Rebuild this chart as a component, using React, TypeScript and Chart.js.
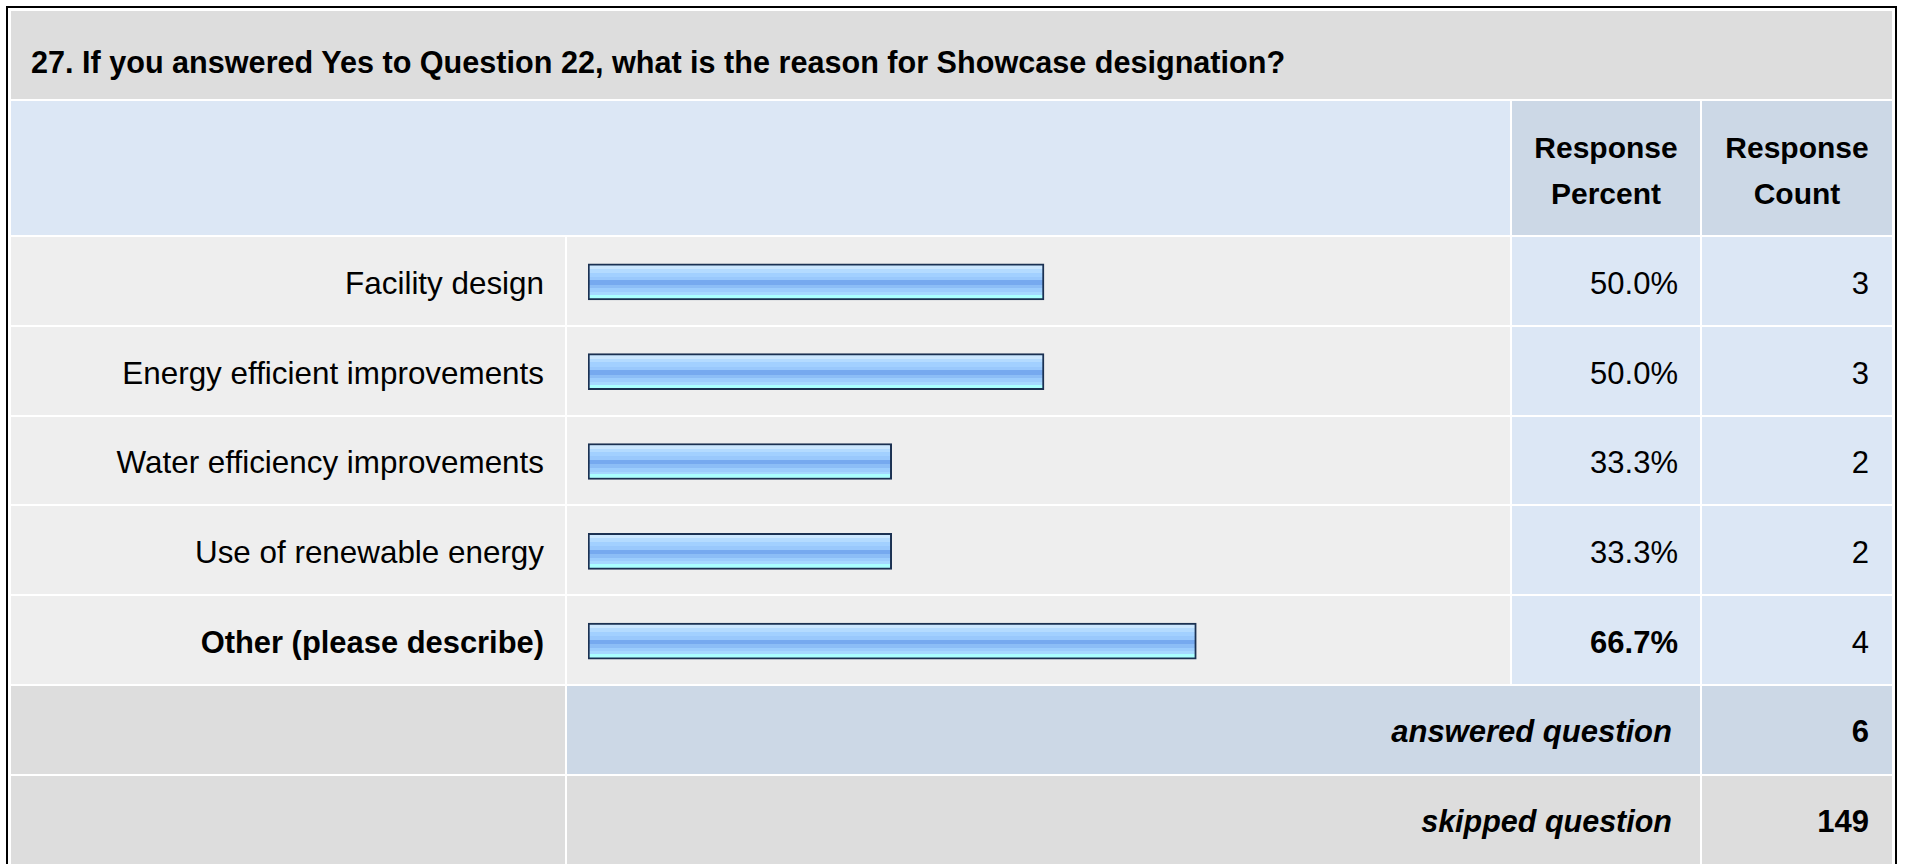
import React, { useEffect, useRef } from "react";
import { Chart, registerables } from "chart.js";

Chart.register(...registerables);

// ---- data ----
const questionTitle =
  "27. If you answered Yes to Question 22, what is the reason for Showcase designation?";
const categories = [
  "Facility design",
  "Energy efficient improvements",
  "Water efficiency improvements",
  "Use of renewable energy",
  "Other (please describe)",
];
const percents = [50.0, 50.0, 33.3, 33.3, 66.7];
const counts = [3, 3, 2, 2, 4];
const boldRows = [false, false, false, false, true];
const headerPercent = ["Response", "Percent"];
const headerCount = ["Response", "Count"];
const answeredLabel = "answered question";
const answeredCount = 6;
const skippedLabel = "skipped question";
const skippedCount = 149;

// ---- layout ----
const FONT = "'Liberation Sans', Arial, Helvetica, sans-serif";
const X = { l0: 11, l1: 565, b0: 567, b1: 1510, p0: 1512, p1: 1700, c0: 1702, c1: 1892 };
const ROW_PITCH = 89.8;
const ROW0 = 237;
const rowTop = (i: number) => Math.round(ROW0 + i * ROW_PITCH);
const rowBottom = (i: number) => rowTop(i + 1) - 2;

const C = {
  title: "#dddddd",
  headLight: "#dce7f5",
  headDark: "#ccd8e6",
  rowGray: "#eeeeee",
  rowBlue: "#dce7f5",
  sumGray: "#dddddd",
};

type BoxProps = {
  x0: number; x1: number; y0: number; y1: number; bg: string;
  justify?: string; pr?: number; pl?: number; pt?: number;
  children?: React.ReactNode; style?: React.CSSProperties;
};
function Box({ x0, x1, y0, y1, bg, justify = "flex-end", pr = 0, pl = 0, pt = 0, children, style }: BoxProps) {
  return (
    <div
      style={{
        position: "absolute",
        left: x0,
        top: y0,
        width: x1 - x0,
        height: y1 - y0,
        background: bg,
        display: "flex",
        alignItems: "center",
        justifyContent: justify,
        boxSizing: "border-box",
        paddingRight: pr,
        paddingLeft: pl,
        paddingTop: pt,
        fontFamily: FONT,
        fontSize: 31.4,
        color: "#000",
        whiteSpace: "nowrap",
        ...style,
      }}
    >
      {children}
    </div>
  );
}

const BAR_THICKNESS = 36;
const bands: [number, string][] = [
  [0.0, "#cbe7ff"],
  [0.14, "#b4dbff"],
  [0.24, "#a2d0ff"],
  [0.36, "#99c8fc"],
  [0.46, "#76a9ef"],
  [0.58, "#8cbdf6"],
  [0.68, "#9ccdfd"],
  [0.78, "#a6d9ff"],
  [0.86, "#aaffff"],
  [1.0, "#aaffff"],
];

function barFill(ctx: any) {
  const ch = ctx.chart;
  const ys = ch.scales && ch.scales.y;
  if (!ys || ctx.type !== "data") return "#8fc0f8";
  const cy = ys.getPixelForValue(ctx.dataIndex);
  if (!Number.isFinite(cy)) return "#8fc0f8";
  const top = cy - BAR_THICKNESS / 2;
  const g = ch.ctx.createLinearGradient(0, top, 0, top + BAR_THICKNESS);
  for (let i = 0; i < bands.length; i++) {
    const [s, col] = bands[i];
    g.addColorStop(s, col);
    if (i + 1 < bands.length) g.addColorStop(Math.max(s, bands[i + 1][0] - 0.001), col);
  }
  return g;
}

function BarChart() {
  const ref = useRef<HTMLCanvasElement | null>(null);
  useEffect(() => {
    if (!ref.current) return;
    const chart = new Chart(ref.current, {
      type: "bar",
      data: {
        labels: categories,
        datasets: [
          {
            data: percents,
            barThickness: BAR_THICKNESS,
            borderWidth: 2,
            borderColor: "#1b3152",
            borderSkipped: false,
            backgroundColor: barFill,
          },
        ],
      },
      options: {
        indexAxis: "y",
        responsive: false,
        maintainAspectRatio: false,
        devicePixelRatio: 1,
        animation: false,
        layout: { padding: { left: 21, right: 10, top: 0, bottom: 0 } },
        scales: {
          x: { display: false, min: 0, max: 100, grid: { display: false } },
          y: { display: false, offset: true, grid: { display: false } },
        },
        plugins: {
          legend: { display: false },
          tooltip: { enabled: false },
          title: { display: false },
        },
      } as any,
    });
    chart.update();
    return () => chart.destroy();
  }, []);
  const top = rowTop(0);
  const height = rowTop(categories.length) - top;
  return (
    <canvas
      ref={ref}
      width={X.b1 - X.b0}
      height={height}
      style={{ position: "absolute", left: X.b0, top, width: X.b1 - X.b0, height }}
    />
  );
}

export default function App() {
  const n = categories.length;
  const headStyle: React.CSSProperties = {
    position: "absolute", top: 125, textAlign: "center",
    fontFamily: FONT, fontWeight: "bold", fontSize: 30, lineHeight: "46px", color: "#000",
  };
  return (
    <div
      style={{
        position: "fixed",
        left: 0,
        top: 0,
        width: 1907,
        height: 864,
        background: "#fff",
        overflow: "hidden",
      }}
    >
      {/* outer border */}
      <div
        style={{
          position: "absolute",
          left: 6,
          top: 6,
          width: 1891,
          height: 900,
          border: "2px solid #000",
          boxSizing: "border-box",
        }}
      />
      {/* title */}
      <Box x0={X.l0} x1={X.c1} y0={11} y1={99} bg={C.title} justify="flex-start" pl={20} pt={15}
        style={{ fontWeight: "bold", fontSize: 30.6 }}>
        {questionTitle}
      </Box>
      {/* header */}
      <Box x0={X.l0} x1={X.b1} y0={101} y1={235} bg={C.headLight} />
      <Box x0={X.p0} x1={X.p1} y0={101} y1={235} bg={C.headDark} justify="center" />
      <Box x0={X.c0} x1={X.c1} y0={101} y1={235} bg={C.headDark} justify="center" />
      <div style={{ ...headStyle, left: X.p0, width: X.p1 - X.p0 }}>
        {headerPercent[0]}<br />{headerPercent[1]}
      </div>
      <div style={{ ...headStyle, left: X.c0, width: X.c1 - X.c0 }}>
        {headerCount[0]}<br />{headerCount[1]}
      </div>
      {/* data rows */}
      {categories.map((cat, i) => (
        <React.Fragment key={cat}>
          <Box x0={X.l0} x1={X.l1} y0={rowTop(i)} y1={rowBottom(i)} bg={C.rowGray} pr={21} pt={5}
            style={{ fontWeight: boldRows[i] ? "bold" : "normal", fontSize: boldRows[i] ? 30.9 : 31.4 }}>
            {cat}
          </Box>
          <Box x0={X.b0} x1={X.b1} y0={rowTop(i)} y1={rowBottom(i)} bg={C.rowGray} />
          <Box x0={X.p0} x1={X.p1} y0={rowTop(i)} y1={rowBottom(i)} bg={C.rowBlue} pr={22} pt={5}
            style={{ fontWeight: boldRows[i] ? "bold" : "normal", fontSize: 31 }}>
            {percents[i].toFixed(1) + "%"}
          </Box>
          <Box x0={X.c0} x1={X.c1} y0={rowTop(i)} y1={rowBottom(i)} bg={C.rowBlue} pr={23} pt={5}
            style={{ fontSize: 31 }}>
            {String(counts[i])}
          </Box>
        </React.Fragment>
      ))}
      <BarChart />
      {/* answered */}
      <Box x0={X.l0} x1={X.l1} y0={rowTop(n)} y1={rowBottom(n)} bg={C.sumGray} />
      <Box x0={X.b0} x1={X.p1} y0={rowTop(n)} y1={rowBottom(n)} bg={C.headDark} pr={28} pt={3}
        style={{ fontWeight: "bold", fontStyle: "italic", fontSize: 31 }}>
        {answeredLabel}
      </Box>
      <Box x0={X.c0} x1={X.c1} y0={rowTop(n)} y1={rowBottom(n)} bg={C.headDark} pr={23} pt={3}
        style={{ fontWeight: "bold", fontSize: 31 }}>
        {String(answeredCount)}
      </Box>
      {/* skipped */}
      <Box x0={X.l0} x1={X.l1} y0={rowTop(n + 1)} y1={rowTop(n + 1) + 88} bg={C.sumGray} />
      <Box x0={X.b0} x1={X.p1} y0={rowTop(n + 1)} y1={rowTop(n + 1) + 88} bg={C.sumGray} pr={28} pt={3}
        style={{ fontWeight: "bold", fontStyle: "italic", fontSize: 30.5 }}>
        {skippedLabel}
      </Box>
      <Box x0={X.c0} x1={X.c1} y0={rowTop(n + 1)} y1={rowTop(n + 1) + 88} bg={C.sumGray} pr={23} pt={3}
        style={{ fontWeight: "bold", fontSize: 31 }}>
        {String(skippedCount)}
      </Box>
    </div>
  );
}
